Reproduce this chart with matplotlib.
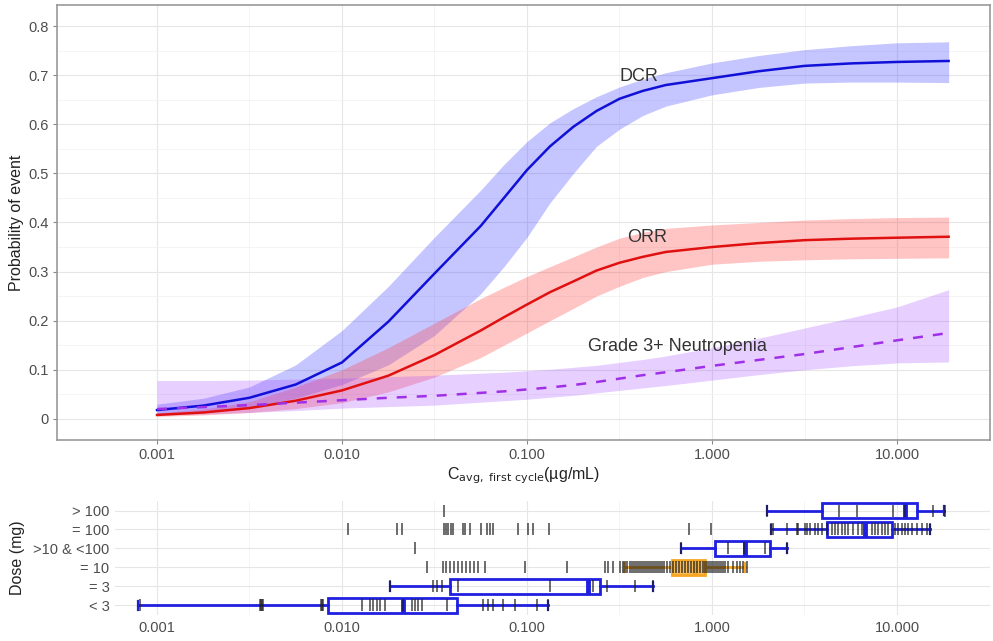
import matplotlib
matplotlib.use("Agg")
import matplotlib.pyplot as plt
from matplotlib.ticker import FixedLocator, FixedFormatter

plt.rcParams['font.family'] = ['Liberation Sans', 'DejaVu Sans']

# exposure-response curves
conc = [0.001, 0.00178, 0.00316, 0.00562, 0.01, 0.0178, 0.0316, 0.0562,
        0.075, 0.1, 0.133, 0.178, 0.237, 0.316, 0.422, 0.562, 1.0, 1.78,
        3.16, 5.62, 10.0, 19.0]

dcr_mid = [0.018, 0.027, 0.043, 0.070, 0.115, 0.198, 0.296, 0.393, 0.450,
           0.507, 0.555, 0.595, 0.627, 0.652, 0.668, 0.680, 0.694, 0.708,
           0.719, 0.724, 0.727, 0.729]
dcr_hi = [0.030, 0.042, 0.065, 0.110, 0.180, 0.270, 0.370, 0.466, 0.518,
          0.565, 0.603, 0.632, 0.656, 0.676, 0.692, 0.705, 0.725, 0.740,
          0.752, 0.760, 0.766, 0.768]
dcr_lo = [0.010, 0.015, 0.024, 0.042, 0.070, 0.110, 0.170, 0.255, 0.310,
          0.370, 0.440, 0.500, 0.555, 0.590, 0.618, 0.637, 0.660, 0.675,
          0.684, 0.686, 0.686, 0.685]

orr_mid = [0.008, 0.013, 0.022, 0.037, 0.058, 0.088, 0.130, 0.180, 0.207,
           0.233, 0.258, 0.280, 0.302, 0.318, 0.330, 0.340, 0.350, 0.358,
           0.364, 0.367, 0.369, 0.371]
orr_hi = [0.012, 0.020, 0.035, 0.065, 0.100, 0.145, 0.195, 0.245, 0.268,
          0.290, 0.310, 0.330, 0.350, 0.368, 0.380, 0.388, 0.395, 0.400,
          0.405, 0.408, 0.410, 0.411]
orr_lo = [0.005, 0.008, 0.013, 0.021, 0.033, 0.055, 0.085, 0.125, 0.150,
          0.175, 0.200, 0.225, 0.250, 0.270, 0.288, 0.300, 0.315, 0.321,
          0.324, 0.326, 0.327, 0.328]

neu_mid = [0.020, 0.024, 0.028, 0.033, 0.038, 0.043, 0.047, 0.053, 0.056,
           0.060, 0.064, 0.069, 0.075, 0.082, 0.089, 0.095, 0.108, 0.120,
           0.132, 0.146, 0.160, 0.175]
neu_hi = [0.078, 0.078, 0.079, 0.081, 0.083, 0.086, 0.089, 0.093, 0.095,
          0.098, 0.101, 0.105, 0.109, 0.115, 0.121, 0.128, 0.145, 0.164,
          0.185, 0.206, 0.228, 0.263]
neu_lo = [0.008, 0.010, 0.013, 0.017, 0.022, 0.025, 0.028, 0.034, 0.037,
          0.040, 0.044, 0.048, 0.053, 0.058, 0.063, 0.068, 0.079, 0.090,
          0.100, 0.108, 0.114, 0.116]

# exposure by dose group (bottom panel)
dose_groups = ["< 3", "= 3", "= 10", ">10 & <100", "= 100", "> 100"]

box_q1 = [0.0084, 0.0384, 0.608, 1.04, 4.19, 3.94]
box_med = [0.0214, 0.214, 0.809, 1.51, 6.70, 11.0]
box_q3 = [0.0419, 0.248, 0.916, 2.06, 9.40, 12.8]
box_lo = [0.00079, 0.0182, 0.335, 0.680, 2.08, 1.98]
box_hi = [0.130, 0.480, 1.50, 2.54, 15.1, 18.0]
box_colors = ["#1f1fe0", "#1f1fe0", "#f5a623", "#1f1fe0", "#1f1fe0", "#1f1fe0"]

rug_lt3 = [0.000809, 0.00361, 0.00365, 0.00370, 0.00374, 0.00769, 0.00779,
           0.00789, 0.0128, 0.0142, 0.0147, 0.0155, 0.0160, 0.0171, 0.0214,
           0.0239, 0.0248, 0.0258, 0.0271, 0.0370, 0.0579, 0.0616, 0.0655,
           0.0741, 0.0861, 0.113, 0.130]
rug_eq3 = [0.0182, 0.0311, 0.0326, 0.0347, 0.0424, 0.133, 0.227, 0.271,
           0.384, 0.480]
rug_eq10 = [0.0288, 0.0352, 0.0365, 0.0384, 0.0403, 0.0424, 0.0446, 0.0468,
            0.0492, 0.0517, 0.0543, 0.0593, 0.0975, 0.164, 0.264, 0.274,
            0.292, 0.318, 0.330, 0.339, 0.347, 0.360, 0.370, 0.379, 0.388,
            0.398, 0.408, 0.419, 0.429, 0.440, 0.451, 0.462, 0.474, 0.486,
            0.498, 0.511, 0.524, 0.537, 0.550, 0.571, 0.593, 0.616, 0.639,
            0.663, 0.688, 0.714, 0.742, 0.770, 0.799, 0.830, 0.861, 0.894,
            0.916, 0.940, 0.963, 0.988, 1.01, 1.04, 1.06, 1.09, 1.12, 1.15,
            1.18, 1.22, 1.30, 1.37, 1.42, 1.47, 1.55]
rug_10_100 = [0.0248, 0.680, 1.22, 1.49, 1.93, 2.54]
rug_eq100 = [0.0108, 0.0198, 0.0211, 0.0356, 0.0365, 0.0374, 0.0388, 0.0398,
             0.0451, 0.0462, 0.0492, 0.0564, 0.0608, 0.0631, 0.0655, 0.0893,
             0.101, 0.108, 0.132, 0.751, 0.988, 2.08, 2.14, 2.54, 2.88, 2.92,
             3.18, 3.26, 3.39, 3.61, 3.74, 3.94, 4.19, 4.45, 4.62, 4.80, 5.04,
             5.24, 5.44, 5.78, 6.15, 6.47, 7.33, 7.61, 7.89, 8.30, 8.62, 8.94,
             9.75, 10.1, 10.6, 11.0, 11.5, 12.1, 12.8, 13.6, 14.5, 15.1]
rug_gt100 = [0.0356, 1.98, 4.86, 6.08, 9.52, 11.0, 15.7, 18.2]
rugs = [rug_lt3, rug_eq3, rug_eq10, rug_10_100, rug_eq100, rug_gt100]

xticks = [0.001, 0.01, 0.1, 1, 10]
xticklabels = ["0.001", "0.010", "0.100", "1.000", "10.000"]
xminor = [0.00316, 0.0316, 0.316, 3.16, 31.6]
yticks = [0, 0.1, 0.2, 0.3, 0.4, 0.5, 0.6, 0.7, 0.8]
yticklabels = ["0", "0.1", "0.2", "0.3", "0.4", "0.5", "0.6", "0.7", "0.8"]

tick_col = "#4d4d4d"
grid_major = "#e6e6e6"
grid_minor = "#f2f2f2"

fig = plt.figure(figsize=(9.93, 6.41), dpi=100)
ax = fig.add_axes([0.0574, 0.3136, 0.9396, 0.6786])
ax2 = fig.add_axes([0.1158, 0.0406, 0.8812, 0.1778])

# ---- top panel
ax.fill_between(conc, dcr_lo, dcr_hi, color="#4040ff", alpha=0.3, lw=0)
ax.fill_between(conc, orr_lo, orr_hi, color="#ff4040", alpha=0.3, lw=0)
ax.fill_between(conc, neu_lo, neu_hi, color="#a040ff", alpha=0.25, lw=0)
ax.plot(conc, dcr_mid, color="#1010d8", lw=1.8)
ax.plot(conc, orr_mid, color="#e01010", lw=1.8)
ax.plot(conc, neu_mid, color="#a030e8", lw=1.8, dashes=(4, 4))

ax.text(0.403, 0.697, "DCR", ha="center", va="center", fontsize=13, color="#333333")
ax.text(0.445, 0.369, "ORR", ha="center", va="center", fontsize=13, color="#333333")
ax.text(0.647, 0.147, "Grade 3+ Neutropenia", ha="center", va="center",
        fontsize=13, color="#333333")

ax.set_xscale("log")
ax.set_xlim(0.000288, 31.8)
ax.set_ylim(-0.043, 0.843)
ax.xaxis.set_major_locator(FixedLocator(xticks))
ax.xaxis.set_major_formatter(FixedFormatter(xticklabels))
ax.xaxis.set_minor_locator(FixedLocator(xminor))
ax.set_yticks(yticks)
ax.set_yticklabels(yticklabels)
ax.set_yticks([0.05, 0.15, 0.25, 0.35, 0.45, 0.55, 0.65, 0.75], minor=True)
ax.grid(True, which="major", color=grid_major, lw=0.8)
ax.grid(True, which="minor", color=grid_minor, lw=0.6)
ax.set_axisbelow(True)
ax.tick_params(which="major", length=3, width=0.8, color="#888888",
               labelcolor=tick_col, labelsize=10.5, pad=3)
ax.tick_params(which="minor", length=0)
for sp in ax.spines.values():
    sp.set_color("#999999")
    sp.set_linewidth(1.2)
ax.set_ylabel("Probability of event", fontsize=11.5, color="#222222", labelpad=3)
ax.set_xlabel(r"C$_{\mathrm{avg,\ first\ cycle}}$(µg/mL)", fontsize=11.5,
              color="#222222", labelpad=2)

# ---- bottom panel
ypos = list(range(1, len(dose_groups) + 1))
stats = []
for i in range(len(dose_groups)):
    stats.append(dict(med=box_med[i], q1=box_q1[i], q3=box_q3[i],
                      whislo=box_lo[i], whishi=box_hi[i], fliers=[]))
for i, st in enumerate(stats):
    c = box_colors[i]
    face = (0.96, 0.65, 0.14, 0.75) if c == "#f5a623" else "none"
    ax2.bxp([st], positions=[ypos[i]], widths=0.8, orientation="horizontal",
            showfliers=False, patch_artist=True, capwidths=0.45,
            boxprops=dict(edgecolor=c, facecolor=face, lw=2),
            whiskerprops=dict(color=c, lw=2),
            capprops=dict(color=c, lw=1.6),
            medianprops=dict(color=c, lw=3.5), manage_ticks=False, zorder=3)

for y, vals in zip(ypos, rugs):
    ax2.plot(vals, [y] * len(vals), ls="none", marker="|", markersize=8,
             markeredgewidth=1.3, color="#1e1e1e", alpha=0.7, zorder=4)

ax2.set_xscale("log")
ax2.set_xlim(0.000593, 31.8)
ax2.set_ylim(0.5, len(dose_groups) + 0.5)
ax2.xaxis.set_major_locator(FixedLocator(xticks))
ax2.xaxis.set_major_formatter(FixedFormatter(xticklabels))
ax2.xaxis.set_minor_locator(FixedLocator(xminor))
ax2.set_yticks(ypos)
ax2.set_yticklabels(dose_groups)
ax2.grid(True, which="major", color=grid_major, lw=0.8)
ax2.grid(True, which="minor", axis="x", color=grid_minor, lw=0.6)
ax2.set_axisbelow(True)
ax2.tick_params(which="both", length=0, labelcolor=tick_col, labelsize=10.5, pad=4)
for sp in ax2.spines.values():
    sp.set_visible(False)
ax2.set_ylabel("Dose (mg)", fontsize=11.5, color="#222222")
ax2.yaxis.set_label_coords(-0.103, 0.5)

fig.savefig("out.png", dpi=100)
